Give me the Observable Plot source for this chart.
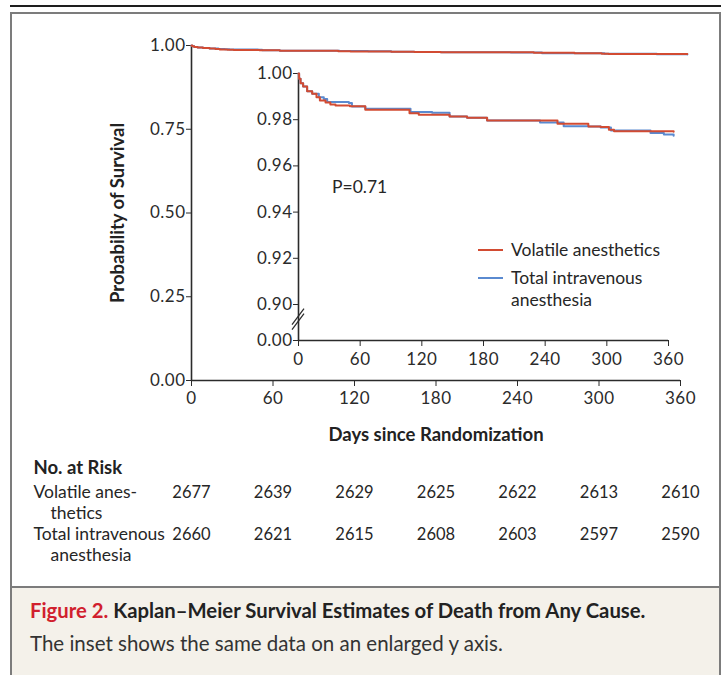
<!DOCTYPE html>
<html>
<head>
<meta charset="utf-8">
<script src="https://cdn.jsdelivr.net/npm/d3@7"></script>
<script src="https://cdn.jsdelivr.net/npm/@observablehq/plot@0.6"></script>
<style>
  html, body { margin: 0; padding: 0; background: #fff; }
  #page { position: relative; width: 723px; height: 675px; overflow: hidden; font-family: Lato, "Open Sans", sans-serif; color: #262626; }
  .abs { position: absolute; }
  #page svg { overflow: visible; }
</style>
</head>
<body>
<div id="page">
  <div class="abs" style="left:10px;top:5px;width:711px;height:2px;background:#1e1e1e"></div>
  <div class="abs" style="left:10px;top:12px;width:707px;height:700px;border:2px solid #7c7c7c;border-bottom:none"></div>
  <div class="abs" style="left:12px;top:586px;width:707px;height:100px;background:#f4f1ea;border-top:2px solid #7c7c7c"></div>
  <div class="abs" style="left:30px;top:597px;font-size:20.3px;font-weight:700;line-height:26px;white-space:nowrap;color:#222"><span style="color:#d11f2e">Figure 2.</span> Kaplan–Meier Survival Estimates of Death from Any Cause.</div>
  <div class="abs" style="left:30px;top:630px;font-size:20.5px;line-height:26px;white-space:nowrap;color:#333">The inset shows the same data on an enlarged y axis.</div>

  <div class="abs" id="main" style="left:0;top:0"></div>
  <div class="abs" id="inset" style="left:0;top:0"></div>
  <div class="abs" id="risk" style="left:0;top:450px"></div>

  <div class="abs" style="left:117px;top:213px;transform:translate(-50%,-50%) rotate(-90deg);font-size:18.5px;font-weight:700;white-space:nowrap;color:#222">Probability of Survival</div>
  <div class="abs" style="left:436px;top:434px;transform:translate(-50%,-50%);font-size:18.5px;font-weight:700;white-space:nowrap;color:#222">Days since Randomization</div>

  <div class="abs" style="left:332px;top:186px;transform:translateY(-50%);font-size:17.5px;white-space:nowrap">P=0.71</div>

  <div class="abs" style="left:478px;top:249px;width:25px;height:2px;background:#d24b32"></div>
  <div class="abs" style="left:511px;top:239px;font-size:17.5px;line-height:22px;white-space:nowrap">Volatile anesthetics</div>
  <div class="abs" style="left:478px;top:277px;width:25px;height:2px;background:#5a8ad0"></div>
  <div class="abs" style="left:511px;top:267px;font-size:17.5px;line-height:22px;white-space:nowrap">Total intravenous<br>anesthesia</div>
</div>
<script>
// ---------- data ----------
const dayTicks = [0, 60, 120, 180, 240, 300, 360];
const mainYTicks = [0, 0.25, 0.5, 0.75, 1];
const insetYTicks = [0, 0.90, 0.92, 0.94, 0.96, 0.98, 1.00];
const groups = ["Volatile anesthetics", "Total intravenous anesthesia"];

const volDays = [0, 0.6, 2, 4.5, 8.4, 13.3, 17.5, 20.8, 26.3, 31, 36, 50, 65, 108, 117, 147, 164, 183.5, 252, 282, 294, 302, 307, 365];
const volSurv = [1, 0.9977, 0.9958, 0.9944, 0.9923, 0.9912, 0.9897, 0.9883, 0.9874, 0.9866, 0.9862, 0.9858, 0.9843, 0.9828, 0.9821, 0.9814, 0.9808, 0.9797, 0.9782, 0.9771, 0.9768, 0.9756, 0.9750, 0.9748];

const tivaDays = [0, 0.6, 2, 4.5, 8.4, 13.3, 19.8, 24.6, 27.9, 49, 52, 65, 109, 130, 147, 164, 183.5, 235, 258, 282, 294, 304, 342.5, 355.5, 365];
const tivaSurv = [1, 0.9977, 0.9958, 0.9944, 0.9923, 0.9912, 0.9897, 0.9890, 0.9877, 0.9872, 0.9857, 0.9847, 0.9833, 0.9830, 0.9814, 0.9808, 0.9797, 0.9788, 0.9772, 0.9771, 0.9766, 0.9753, 0.9742, 0.9736, 0.9730];

const riskVol = [2677, 2639, 2629, 2625, 2622, 2613, 2610];
const riskTiva = [2660, 2621, 2615, 2608, 2603, 2597, 2590];

// ---------- styles ----------
const RED = "#d24b32";
const BLUE = "#5a8ad0";
const AXIS = "#2b2b2b";
const FONT = "Lato, 'Open Sans', sans-serif";

const volData = volDays.map((d, i) => ({day: d, surv: volSurv[i]}));
const tivaData = tivaDays.map((d, i) => ({day: d, surv: tivaSurv[i]}));
const fmt2 = d3.format(".2f");

// ---------- main chart ----------
const main = Plot.plot({
  width: 723, height: 450,
  marginLeft: 191, marginRight: 43, marginTop: 45, marginBottom: 70,
  style: {fontFamily: FONT, fontSize: "17px", color: AXIS, background: "transparent", letterSpacing: "0.5px"},
  x: {domain: [0, 360], ticks: dayTicks, tickSize: 6, tickPadding: 5, label: null},
  y: {domain: [0, 1], ticks: mainYTicks, tickFormat: fmt2, tickSize: 5, tickPadding: 1, label: null},
  marks: [
    Plot.ruleX([0], {stroke: AXIS, strokeWidth: 1.6}),
    Plot.ruleY([0], {stroke: AXIS, strokeWidth: 1.6}),
    Plot.line(tivaData, {x: "day", y: "surv", curve: "step-after", stroke: BLUE, strokeWidth: 2}),
    Plot.line(volData, {x: "day", y: "surv", curve: "step-after", stroke: RED, strokeWidth: 2})
  ]
});
document.getElementById("main").appendChild(main);

// ---------- inset ----------
function axisBreak(index, scales, values, dimensions, context) {
  const x0 = scales.x(0);
  const yc = scales.y(0.52);
  const g = d3.create("svg:g").attr("stroke", AXIS).attr("stroke-width", 1.3).attr("fill", "none");
  for (const off of [-2.5, 2.5]) {
    g.append("line")
      .attr("x1", x0 - 6).attr("y1", yc + 8 + off)
      .attr("x2", x0 + 6).attr("y2", yc - 8 + off);
  }
  return g.node();
}

const inset = Plot.plot({
  width: 723, height: 450,
  marginLeft: 298, marginRight: 55, marginTop: 73, marginBottom: 110,
  style: {fontFamily: FONT, fontSize: "17px", color: AXIS, background: "transparent", letterSpacing: "0.5px"},
  x: {domain: [0, 360], ticks: dayTicks, tickSize: 6, tickPadding: 6, label: null},
  y: {type: "linear", domain: [0, 0.9, 1], range: [340, 304, 73], ticks: insetYTicks, tickFormat: fmt2, tickSize: 5, tickPadding: 1, label: null},
  marks: [
    Plot.ruleX([0], {stroke: AXIS, strokeWidth: 1.6}),
    Plot.ruleY([0], {stroke: AXIS, strokeWidth: 1.6}),
    axisBreak,
    Plot.line(tivaData, {x: "day", y: "surv", curve: "step-after", stroke: BLUE, strokeWidth: 2}),
    Plot.line(volData, {x: "day", y: "surv", curve: "step-after", stroke: RED, strokeWidth: 2})
  ]
});
document.getElementById("inset").appendChild(inset);

// ---------- number at risk ----------
const riskRows = [
  ...riskVol.map((n, i) => ({day: dayTicks[i], group: groups[0], n})),
  ...riskTiva.map((n, i) => ({day: dayTicks[i], group: groups[1], n}))
];
const rowLabels = [
  {group: groups[0], first: "Volatile anes-", second: "thetics"},
  {group: groups[1], first: "Total intravenous", second: "anesthesia"}
];
const risk = Plot.plot({
  width: 723, height: 125,
  marginLeft: 191, marginRight: 43, marginTop: 0, marginBottom: 0,
  style: {fontFamily: FONT, fontSize: "17.5px", color: "#262626", background: "transparent"},
  x: {domain: [0, 360], axis: null},
  y: {type: "point", domain: groups, range: [42, 84], padding: 0, axis: null},
  marks: [
    Plot.text(["No. at Risk"], {frameAnchor: "top-left", textAnchor: "start", dx: -158, dy: 10, fontWeight: 700, fontSize: 18.5, fill: "#222"}),
    Plot.text(rowLabels, {y: "group", text: "first", frameAnchor: "left", textAnchor: "start", dx: -158, fill: "#262626"}),
    Plot.text(rowLabels, {y: "group", text: "second", frameAnchor: "left", textAnchor: "start", dx: -141, dy: 21, fill: "#262626"}),
    Plot.text(riskRows, {x: "day", y: "group", text: d => String(d.n), fontSize: 16.5, fill: "#262626", style: "letter-spacing:-0.3px"})
  ]
});
document.getElementById("risk").appendChild(risk);
</script>
</body>
</html>
